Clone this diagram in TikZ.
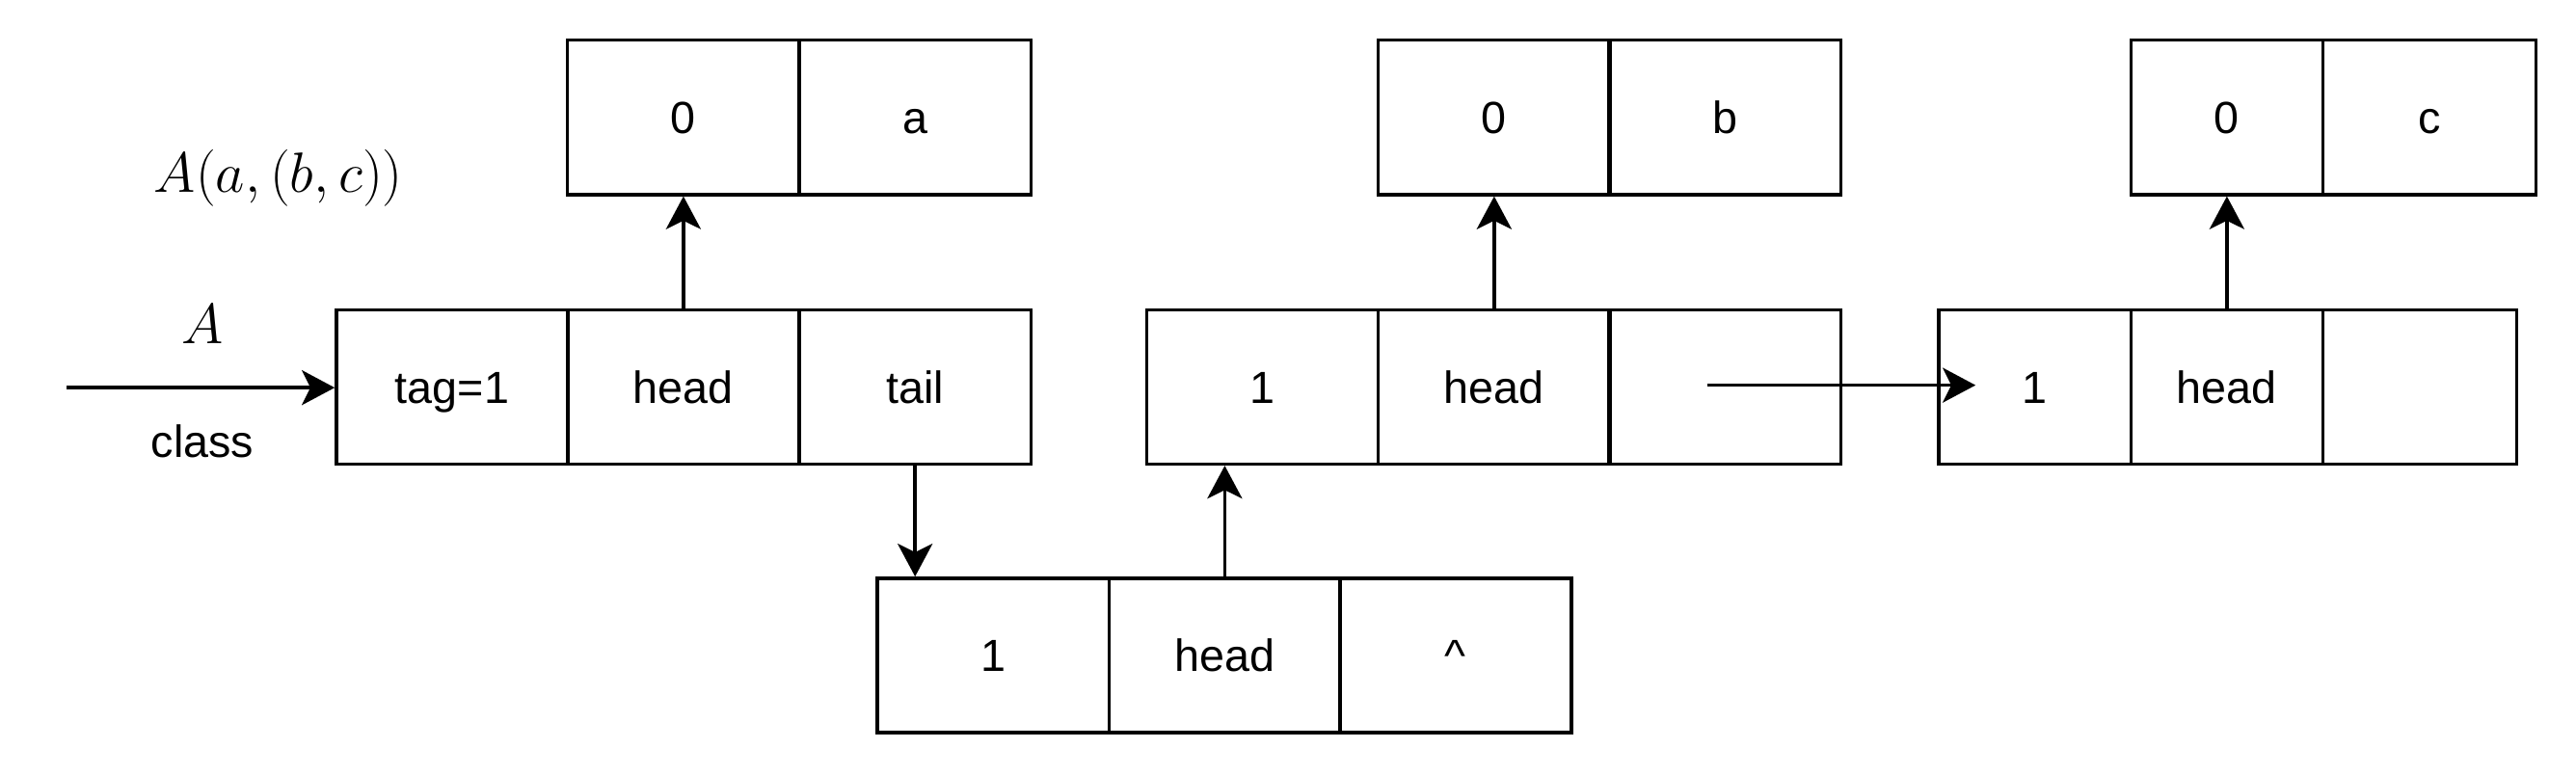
\documentclass[tikz,border=0pt]{standalone}
\usepackage{fontspec}
\setmainfont{Liberation Sans}
\usetikzlibrary{arrows.meta}
\tikzset{
  cell/.style={draw, line width=1pt, rectangle, inner sep=0pt, minimum height=47pt,
    text height=11pt, text depth=1pt, font=\fontsize{13.7}{16}\selectfont},
  wide/.style={cell, minimum width=70.5pt},
  narrow/.style={cell, minimum width=58.5pt},
  conn/.style={line width=1pt, -{Stealth[length=10pt, width=10.6pt, inset=2.6pt]}},
  lbl/.style={inner sep=0pt, anchor=base},
}
\begin{document}
\begin{tikzpicture}[x=0.5pt, y=-0.5pt]
\useasboundingbox (0,0) rectangle (1568,471.8);
% row 1, first record
\node[wide] (c11) at (275.25,235.5) {tag=1};
\node[wide] (c12) at (416,235.5) {head};
\node[wide] (c13) at (557,235.5) {tail};
% atom a
\node[wide] (ta1) at (416,71.5) {0};
\node[wide] (ta2) at (557,71.5) {a};
% second record
\node[wide] (c21) at (768.5,235.5) {1};
\node[wide] (c22) at (909.5,235.5) {head};
\node[wide] (c23) at (1050,235.5) {};
% atom b
\node[wide] (tb1) at (909.5,71.5) {0};
\node[wide] (tb2) at (1050,71.5) {b};
% bottom record
\node[wide] (b1) at (604.5,399) {1};
\node[wide] (b2) at (745.5,399) {head};
\node[wide] (b3) at (886,399) {\textasciicircum};
% third record
\node[narrow] (d1) at (1238.5,235.5) {1};
\node[narrow] (d2) at (1355.5,235.5) {head};
\node[cell, minimum width=59pt] (d3) at (1473,235.5) {};
% atom c
\node[narrow] (tc1) at (1355.5,71.5) {0};
\node[cell, minimum width=64.75pt] (tc2) at (1478.75,71.5) {c};
% labels
\node[lbl, font=\fontsize{18}{21}\selectfont] (expr) at (169.5,117) {$A(a,(b,c))$};
\node[lbl, font=\fontsize{18}{21}\selectfont] (alab) at (123.3,209) {$A$};
\node[lbl, font=\fontsize{13.7}{16}\selectfont] (clab) at (123.3,278.5) {class};
% connectors
\coordinate (start) at (40.5,236);
\coordinate (p) at (1039,234.5);
\coordinate (q) at (1202.5,234.5);
\draw[conn] (start) -- (start -| c11.west);
\draw[conn] (c12.north) -- (ta1.south);
\draw[conn] (c13.south) -- (c13.south |- b1.north);
\draw[conn] (b2.north) -- (b2.north |- c21.south);
\draw[conn] (c22.north) -- (tb1.south);
\draw[conn] (d2.north) -- (tc1.south);
\draw[conn] (p) -- (q);
\end{tikzpicture}
\end{document}
